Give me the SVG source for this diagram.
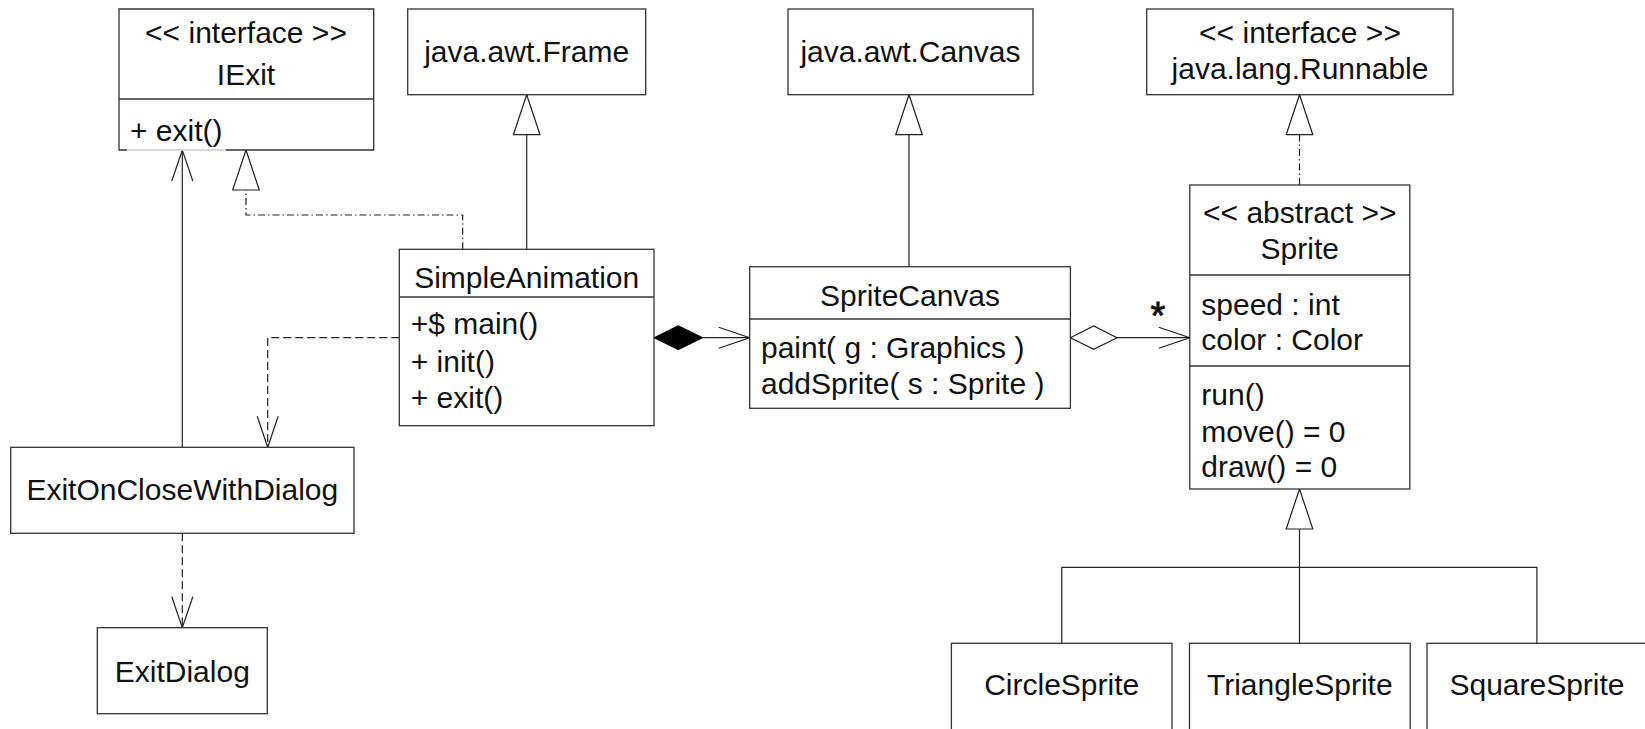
<svg xmlns="http://www.w3.org/2000/svg" width="1645" height="729" viewBox="0 0 1645 729">
<style>
.box{fill:#fff;stroke:#333;stroke-width:1.3}
.div{stroke:#333;stroke-width:1.3}
text{font-family:"Liberation Sans",Arial,sans-serif;font-size:30px;fill:#111}
.c{text-anchor:middle}
.ln{fill:none;stroke:#222;stroke-width:1.2}
.dash{stroke-dasharray:8,4}
.dd{stroke-dasharray:7,3,1.5,3}
.star{font-size:38px;stroke:#111;stroke-width:0.8}
</style>
<defs>
<marker id="open" markerUnits="userSpaceOnUse" markerWidth="34" markerHeight="24" refX="31" refY="10.5" orient="auto" overflow="visible">
<path d="M0,0 L31,10.5 L0,21" fill="none" stroke="#222" stroke-width="1.2"/>
</marker>
<marker id="tri" markerUnits="userSpaceOnUse" markerWidth="42" markerHeight="28" refX="40" refY="13.3" orient="auto" overflow="visible">
<path d="M0,0 L40,13.3 L0,26.6 Z" fill="#fff" stroke="#222" stroke-width="1.2"/>
</marker>
<marker id="fdia" markerUnits="userSpaceOnUse" markerWidth="50" markerHeight="26" refX="0" refY="12" orient="auto" overflow="visible">
<path d="M0,12 L24.3,0 L48.7,12 L24.3,24 Z" fill="#000" stroke="#000" stroke-width="1"/>
</marker>
<marker id="odia" markerUnits="userSpaceOnUse" markerWidth="50" markerHeight="26" refX="0" refY="11.7" orient="auto" overflow="visible">
<path d="M0,11.7 L23.3,0 L46.6,11.7 L23.3,23.4 Z" fill="#fff" stroke="#222" stroke-width="1.2"/>
</marker>
</defs>
<rect width="1645" height="729" fill="#fff"/>

<g id="connectors">
<path class="ln dd" d="M462.7,249.3 V215 H246 V150" marker-end="url(#tri)"/>
<path class="ln" d="M526.7,249.3 V94.7" marker-end="url(#tri)"/>
<path class="ln" d="M909,266.7 V94.7" marker-end="url(#tri)"/>
<path class="ln dd" d="M1299.5,185 V94.7" marker-end="url(#tri)"/>
<path class="ln" d="M1299.5,643.3 V489" marker-end="url(#tri)"/>
<path class="ln" d="M1061.8,643.3 V567.3 H1536.9 V643.3"/>
<path class="ln" d="M654,337.7 H749.7" marker-start="url(#fdia)" marker-end="url(#open)"/>
<path class="ln" d="M1070.4,337.7 H1189.8" marker-start="url(#odia)" marker-end="url(#open)"/>
<text x="1158" y="329" class="c star">*</text>
<path class="ln dash" d="M399.3,337.7 H267.7 V447.3" marker-end="url(#open)"/>
<path class="ln" d="M182.3,447.3 V150" marker-end="url(#open)"/>
<path class="ln dash" d="M182.3,533.3 V627.7" marker-end="url(#open)"/>
</g>

<g id="IExit">
<path class="box" d="M127,150 H119 V9 H373.7 V150 H225.7"/>
<line x1="127" y1="150" x2="225.7" y2="150" stroke="#ccc" stroke-width="1.3"/>
<line class="div" x1="119" y1="99" x2="373.7" y2="99"/>
<text x="246" y="43" class="c">&lt;&lt; interface &gt;&gt;</text>
<text x="246" y="85" class="c">IExit</text>
<text x="130" y="141">+ exit()</text>
</g>

<g id="Frame">
<rect class="box" x="407.7" y="9" width="238" height="85.7"/>
<text x="526.7" y="62" class="c">java.awt.Frame</text>
</g>

<g id="Canvas">
<rect class="box" x="788" y="9" width="245" height="85.7"/>
<text x="910.5" y="62" class="c">java.awt.Canvas</text>
</g>

<g id="Runnable">
<rect class="box" x="1146.7" y="9" width="306.3" height="85.7"/>
<text x="1300" y="43" class="c">&lt;&lt; interface &gt;&gt;</text>
<text x="1300" y="79" class="c">java.lang.Runnable</text>
</g>

<g id="SimpleAnimation">
<rect class="box" x="399.3" y="249.3" width="254.7" height="176.4"/>
<line class="div" x1="399.3" y1="297" x2="654" y2="297"/>
<text x="526.7" y="288" class="c">SimpleAnimation</text>
<text x="410.7" y="334.3">+$ main()</text>
<text x="410.7" y="371.5">+ init()</text>
<text x="410.7" y="408.3">+ exit()</text>
</g>

<g id="SpriteCanvas">
<rect class="box" x="749.7" y="266.7" width="320.7" height="141.6"/>
<line class="div" x1="749.7" y1="319" x2="1070.4" y2="319"/>
<text x="910" y="305.5" class="c">SpriteCanvas</text>
<text x="761" y="357.5">paint( g : Graphics )</text>
<text x="761" y="394">addSprite( s : Sprite )</text>
</g>

<g id="Sprite">
<rect class="box" x="1189.8" y="185" width="220" height="304"/>
<line class="div" x1="1189.8" y1="275" x2="1409.8" y2="275"/>
<line class="div" x1="1189.8" y1="366" x2="1409.8" y2="366"/>
<text x="1299.8" y="223" class="c">&lt;&lt; abstract &gt;&gt;</text>
<text x="1299.8" y="258.5" class="c">Sprite</text>
<text x="1201.3" y="315">speed : int</text>
<text x="1201.3" y="350">color : Color</text>
<text x="1201.3" y="405">run()</text>
<text x="1201.3" y="441.7">move() = 0</text>
<text x="1201.3" y="476.7">draw() = 0</text>
</g>

<g id="ExitOnCloseWithDialog">
<rect class="box" x="10.7" y="447.3" width="343.3" height="86"/>
<text x="182.3" y="500" class="c">ExitOnCloseWithDialog</text>
</g>

<g id="ExitDialog">
<rect class="box" x="97.3" y="627.7" width="170" height="86"/>
<text x="182.3" y="681.7" class="c">ExitDialog</text>
</g>

<g id="CircleSprite">
<rect class="box" x="951.4" y="643.3" width="220.6" height="120"/>
<text x="1061.7" y="695" class="c">CircleSprite</text>
</g>

<g id="TriangleSprite">
<rect class="box" x="1189.5" y="643.3" width="220.7" height="120"/>
<text x="1299.8" y="695" class="c">TriangleSprite</text>
</g>

<g id="SquareSprite">
<rect class="box" x="1427" y="643.3" width="221" height="120"/>
<text x="1537" y="695" class="c">SquareSprite</text>
</g>
</svg>
